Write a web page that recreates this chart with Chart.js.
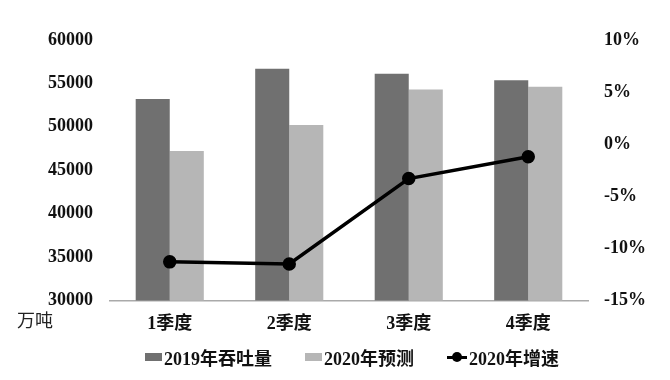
<!DOCTYPE html>
<html>
<head>
<meta charset="utf-8">
<script src="https://cdn.jsdelivr.net/npm/chart.js@4/dist/chart.umd.min.js"></script>
<style>
    html, body { margin: 0; padding: 0; background: #fff; }
    #wrap { position: relative; width: 670px; height: 380px; }
    #unit {
        position: absolute; left: 17px; top: 306px;
        font: 18px "Noto Sans CJK SC", serif; color: #222;
    }
    #legend {
        position: absolute; left: 145px; top: 345px; height: 24px;
        display: flex; align-items: center;
        font: bold 18px "Liberation Serif", "Noto Sans CJK SC", serif; color: #111;
    }
    #legend .item { display: flex; align-items: center; margin-right: 33px; }
    #legend .box { width: 17px; height: 8px; margin-right: 2px; }
    #legend .ln { position: relative; width: 20px; height: 3px; background: #000; margin-right: 2px; }
    #legend .ln::after {
        content: ''; position: absolute; left: 5px; top: -3.5px;
        width: 10px; height: 10px; border-radius: 50%; background: #000;
    }
</style>
</head>
<body>
<div id="wrap">
    <canvas id="chart" width="670" height="380"></canvas>
    <span id="unit">万吨</span>
    <div id="legend"></div>
</div>
<script>
// Data
const quarters = ['1季度', '2季度', '3季度', '4季度'];
const throughput2019 = [53200, 56700, 56100, 55350];
const forecast2020 = [47200, 50200, 54300, 54600];
const growth2020 = [-11.3, -11.5, -3.3, -1.2];

const FONT = '"Liberation Serif", "Noto Sans CJK SC", serif';
const DARK = '#707070';
const LIGHT = '#b6b6b6';

const ctx = document.getElementById('chart').getContext('2d');
const chart = new Chart(ctx, {
    data: {
        labels: quarters,
        datasets: [{
            type: 'line',
            label: '2020年增速',
            data: growth2020,
            yAxisID: 'yRight',
            borderColor: '#000',
            backgroundColor: '#000',
            borderWidth: 3.5,
            pointRadius: 5,
            pointBackgroundColor: '#000',
            tension: 0,
            order: 0
        }, {
            type: 'bar',
            label: '2019年吞吐量',
            data: throughput2019,
            yAxisID: 'yLeft',
            backgroundColor: DARK,
            barPercentage: 1,
            categoryPercentage: 0.57,
            order: 1
        }, {
            type: 'bar',
            label: '2020年预测',
            data: forecast2020,
            yAxisID: 'yLeft',
            backgroundColor: LIGHT,
            barPercentage: 1,
            categoryPercentage: 0.57,
            order: 1
        }]
    },
    options: {
        responsive: false,
        animation: false,
        layout: { padding: { top: 40, bottom: 32, left: 0, right: 0 } },
        plugins: {
            tooltip: { enabled: false },
            legend: { display: false }
        },
        scales: {
            x: {
                grid: { display: false, drawTicks: false },
                border: { color: '#aaa', width: 1.5 },
                ticks: {
                    color: '#111', padding: 13,
                    font: { family: FONT, size: 18, weight: 'bold' }
                }
            },
            yLeft: {
                position: 'left',
                min: 30000, max: 60000,
                grid: { display: false, drawTicks: false },
                border: { display: false },
                afterFit: s => { s.width = 110; },
                ticks: {
                    stepSize: 5000, padding: 17, color: '#111',
                    font: { family: FONT, size: 18, weight: 'bold' },
                    callback: v => String(v)
                }
            },
            yRight: {
                position: 'right',
                min: -15, max: 10,
                grid: { display: false, drawTicks: false },
                border: { display: false },
                afterFit: s => { s.width = 82; },
                ticks: {
                    stepSize: 5, padding: 16, color: '#111',
                    font: { family: FONT, size: 18, weight: 'bold' },
                    callback: v => v + '%'
                }
            }
        }
    }
});

// Legend (bars first, then the line)
const legendEl = document.getElementById('legend');
[1, 2, 0].forEach(i => {
    const ds = chart.data.datasets[i];
    const icon = ds.type === 'line'
        ? '<span class="ln"></span>'
        : `<span class="box" style="background:${ds.backgroundColor}"></span>`;
    legendEl.insertAdjacentHTML('beforeend', `<span class="item">${icon}${ds.label}</span>`);
});
</script>
</body>
</html>
